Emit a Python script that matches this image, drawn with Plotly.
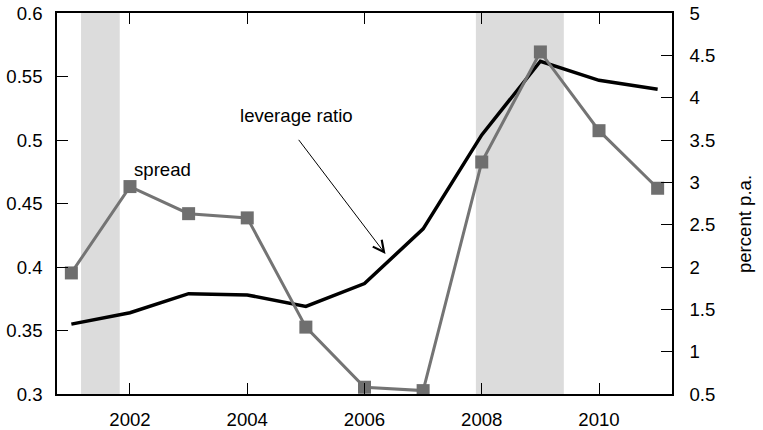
import plotly.graph_objects as go

# Annual observations
years = [2001, 2002, 2003, 2004, 2005, 2006, 2007, 2008, 2009, 2010, 2011]
leverage_ratio = [0.355, 0.364, 0.379, 0.378, 0.369, 0.387, 0.430, 0.504, 0.562, 0.547, 0.540]
spread = [1.93, 2.95, 2.63, 2.58, 1.29, 0.58, 0.54, 3.24, 4.54, 3.61, 2.93]

# Recession periods (shaded)
recessions = [(2001.165, 2001.825), (2007.90, 2009.40)]

# Axis ticks
x_ticks = [2002, 2004, 2006, 2008, 2010]
left_ticks = [0.3, 0.35, 0.4, 0.45, 0.5, 0.55, 0.6]
left_tick_text = ["0.3", "0.35", "0.4", "0.45", "0.5", "0.55", "0.6"]
right_ticks = [0.5, 1, 1.5, 2, 2.5, 3, 3.5, 4, 4.5, 5]
right_tick_text = ["0.5", "1", "1.5", "2", "2.5", "3", "3.5", "4", "4.5", "5"]

FONT = "Liberation Sans, Arial, Helvetica, sans-serif"
FS = 18.6
GREY = "#747474"

fig = go.Figure()

fig.add_trace(go.Scatter(
    x=years, y=leverage_ratio, mode="lines",
    line=dict(color="black", width=3.5),
    yaxis="y", showlegend=False,
))
fig.add_trace(go.Scatter(
    x=years, y=spread, mode="lines+markers",
    line=dict(color=GREY, width=3),
    marker=dict(symbol="square", size=13, color="#6f6f6f"),
    yaxis="y2", showlegend=False,
))

for start, end in recessions:
    fig.add_shape(type="rect", xref="x", yref="paper",
                  x0=start, x1=end, y0=0, y1=1,
                  fillcolor="#dcdcdc", line=dict(width=0), layer="below")

fig.add_annotation(x=2002.04, y=0.4764, xref="x", yref="y", text="spread",
                   showarrow=False, xanchor="left", yanchor="middle",
                   font=dict(family=FONT, size=FS, color="black"))
fig.add_annotation(x=2004.84, y=0.5195, xref="x", yref="y", text="leverage ratio",
                   showarrow=False, xanchor="center", yanchor="middle",
                   font=dict(family=FONT, size=FS, color="black"))
fig.add_annotation(x=2006.358, y=0.4102, ax=2004.858, ay=0.5013,
                   xref="x", yref="y", axref="x", ayref="y", text="",
                   showarrow=True, arrowhead=5, arrowsize=2.2, arrowwidth=1,
                   arrowcolor="black", standoff=0, startstandoff=0)
fig.add_annotation(x=1.0, y=0.48, xref="paper", yref="paper", text="percent p.a.",
                   showarrow=False, textangle=-90, xanchor="center", yanchor="middle",
                   xshift=72, yshift=-13, font=dict(family=FONT, size=FS, color="black"))

axis_common = dict(showgrid=False, zeroline=False, showline=True, linecolor="black",
                   linewidth=1.5, ticks="inside", ticklen=11, tickwidth=1,
                   tickcolor="black", automargin=False,
                   tickfont=dict(family=FONT, size=FS, color="black"))

fig.update_layout(
    width=763, height=430,
    margin=dict(l=57, r=91, t=13, b=36),
    paper_bgcolor="white", plot_bgcolor="white",
    font=dict(family=FONT, size=FS, color="black"),
    xaxis=dict(range=[2000.755, 2011.245], tickvals=x_ticks, mirror="ticks",
               ticklabelstandoff=8, **axis_common),
    yaxis=dict(range=[0.3, 0.6], tickvals=left_ticks, ticktext=left_tick_text,
               ticklabelstandoff=9, **axis_common),
    yaxis2=dict(range=[0.5, 5], tickvals=right_ticks, ticktext=right_tick_text,
                overlaying="y", side="right", ticklabelstandoff=12, **axis_common),
)

fig.write_html("out.html")
